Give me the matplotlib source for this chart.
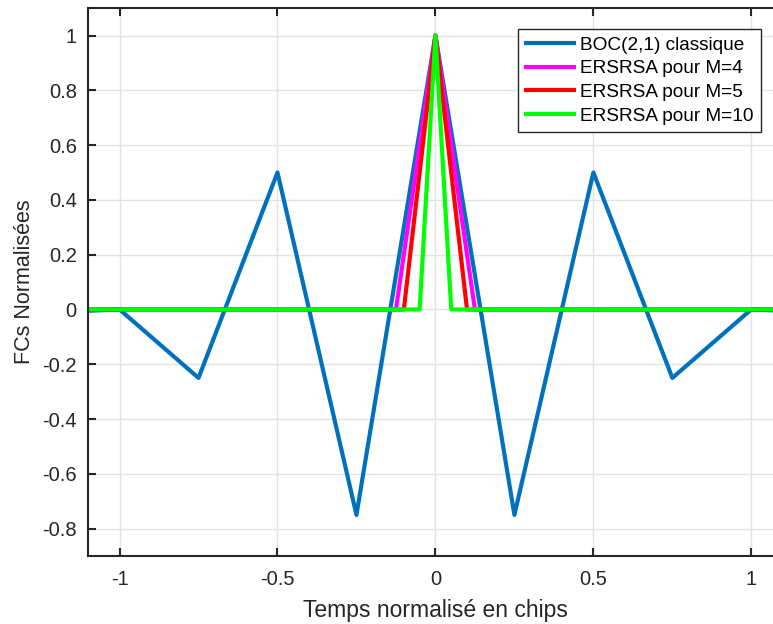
import matplotlib
matplotlib.use("Agg")
import matplotlib.pyplot as plt

# BOC(2,1) classic autocorrelation nodes
boc_x = [-1.1, -1.0, -0.75, -0.5, -0.25, 0.0, 0.25, 0.5, 0.75, 1.0, 1.1]
boc_y = [-0.005, 0.0, -0.25, 0.5, -0.75, 1.0, -0.75, 0.5, -0.25, 0.0, -0.005]

# ERSRSA main peak half-widths
m_values = [4, 5, 10]
half_widths = [0.125, 0.1, 0.05]
colors = ["#ff00ff", "#ff0000", "#00ff00"]

labels = ["BOC(2,1) classique", "ERSRSA pour M=4", "ERSRSA pour M=5", "ERSRSA pour M=10"]

plt.rcParams['font.family'] = ['Liberation Sans', 'DejaVu Sans']

fig = plt.figure(figsize=(7.73, 6.24), dpi=100)
ax = fig.add_axes([0.1138, 0.109, 0.899, 0.878])

ax.plot(boc_x, boc_y, color="#0072bd", lw=3, label=labels[0])
for m, hw, c, lab in zip(m_values, half_widths, colors, labels[1:]):
    xs = [-1.1, -hw, 0.0, hw, 1.1]
    ys = [0.0, 0.0, 1.0, 0.0, 0.0]
    ax.plot(xs, ys, color=c, lw=3, label=lab)

ax.set_xlim(-1.1, 1.1)
ax.set_ylim(-0.9, 1.1)
ax.set_xticks([-1, -0.5, 0, 0.5, 1])
ax.set_xticklabels(["-1", "-0.5", "0", "0.5", "1"])
yt = [-0.8, -0.6, -0.4, -0.2, 0, 0.2, 0.4, 0.6, 0.8, 1]
ax.set_yticks(yt)
ax.set_yticklabels(["-0.8", "-0.6", "-0.4", "-0.2", "0", "0.2", "0.4", "0.6", "0.8", "1"])

ax.grid(True, color="#e3e3e3", lw=1)
ax.set_axisbelow(True)
ax.tick_params(direction="in", length=6, width=1.5, labelsize=14.5, colors="#262626",
               top=True, right=True)
ax.tick_params(axis="x", pad=10)
ax.tick_params(axis="y", pad=8)
for s in ax.spines.values():
    s.set_color("#262626")
    s.set_linewidth(1.5)

ax.set_xlabel("Temps normalisé en chips", fontsize=16.5, color="#262626", labelpad=7)
ax.set_ylabel("FCs Normalisées", fontsize=15.5, color="#262626", labelpad=5)

leg = ax.legend(loc="upper right", bbox_to_anchor=(0.969, 0.962), fontsize=13.7,
                fancybox=False, framealpha=1, edgecolor="#262626",
                handlelength=2.5, borderpad=0.4, labelspacing=0.33, handletextpad=0.35,
                borderaxespad=0)
leg.get_frame().set_linewidth(1)

fig.savefig("out.png", dpi=100)
